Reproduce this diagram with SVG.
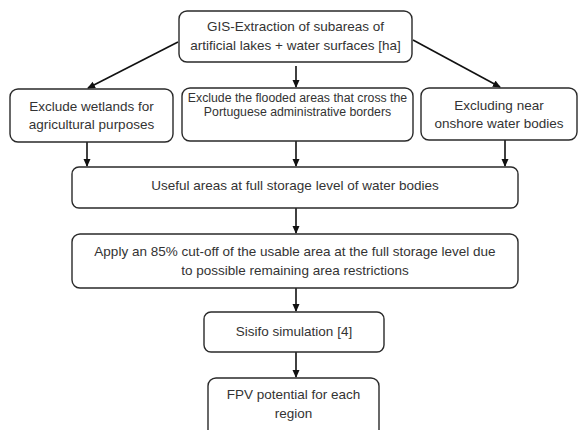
<svg xmlns="http://www.w3.org/2000/svg" width="579" height="430" viewBox="0 0 579 430">
<style>
.box{fill:#fff;stroke:#2a2a2a;stroke-width:1.4}
.t{font-family:"Liberation Sans","Open Sans",sans-serif;font-size:13.5px;fill:#333;text-anchor:middle}
.s{font-size:12.3px}
.c{stroke:#111;stroke-width:1.6;fill:none;marker-end:url(#ah)}
</style>
<defs>
<marker id="ah" markerWidth="8" markerHeight="8" refX="7" refY="4" orient="auto" markerUnits="userSpaceOnUse">
<path d="M0,0.5 L8,4 L0,7.5 Z" fill="#111"/>
</marker>
</defs>
<rect width="579" height="430" fill="#fff"/>
<g id="connectors">
<line class="c" x1="178" y1="42" x2="88" y2="88"/>
<line class="c" x1="296" y1="66" x2="296" y2="87"/>
<line class="c" x1="413" y1="40" x2="500" y2="87"/>
<line class="c" x1="87" y1="142" x2="87" y2="166"/>
<line class="c" x1="296" y1="141" x2="296" y2="166"/>
<line class="c" x1="505" y1="140" x2="505" y2="166"/>
<line class="c" x1="296" y1="208" x2="296" y2="233"/>
<line class="c" x1="296" y1="288" x2="296" y2="311"/>
<line class="c" x1="296" y1="352" x2="296" y2="377"/>
</g>
<g id="gis">
<rect class="box" x="179" y="11" width="233" height="51" rx="8"/>
<text class="t" x="295.5" y="30.5">GIS-Extraction of subareas of</text>
<text class="t" x="295.5" y="49.5">artificial lakes + water surfaces [ha]</text>
</g>
<g id="wetlands">
<rect class="box" x="10" y="89" width="163" height="53" rx="8"/>
<text class="t" x="91.5" y="111">Exclude wetlands for</text>
<text class="t" x="91.5" y="129">agricultural purposes</text>
</g>
<g id="flooded">
<rect class="box" x="182" y="88" width="231" height="53" rx="8"/>
<text class="t s" x="297.5" y="101.5">Exclude the flooded areas that cross the</text>
<text class="t s" x="297.5" y="116">Portuguese administrative borders</text>
</g>
<g id="onshore">
<rect class="box" x="421" y="88" width="156" height="52" rx="8"/>
<text class="t" x="499" y="109.5">Excluding near</text>
<text class="t" x="499" y="127.5">onshore water bodies</text>
</g>
<g id="useful">
<rect class="box" x="72" y="167" width="446" height="41" rx="7"/>
<text class="t" x="295" y="190">Useful areas at full storage level of water bodies</text>
</g>
<g id="apply">
<rect class="box" x="72" y="234" width="446" height="54" rx="8"/>
<text class="t" x="295" y="256">Apply an 85% cut-off of the usable area at the full storage level due</text>
<text class="t" x="295" y="274.5">to possible remaining area restrictions</text>
</g>
<g id="sisifo">
<rect class="box" x="204" y="312" width="180" height="40" rx="7"/>
<text class="t" x="294" y="336">Sisifo simulation [4]</text>
</g>
<g id="fpv">
<rect class="box" x="208" y="378" width="171" height="62" rx="8"/>
<text class="t" x="293.5" y="399">FPV potential for each</text>
<text class="t" x="293.5" y="417.5">region</text>
</g>
</svg>
